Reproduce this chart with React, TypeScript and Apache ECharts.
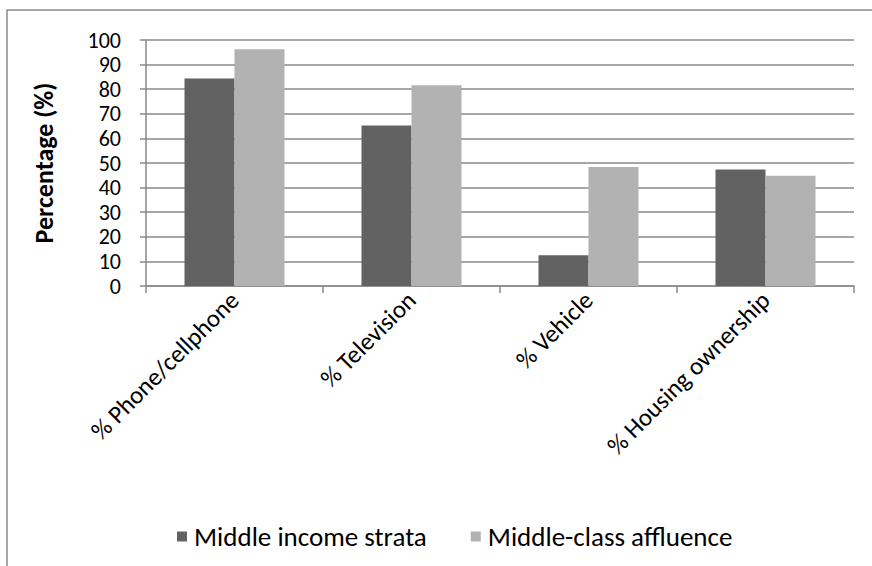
import React, { useEffect, useRef } from "react";
import * as echarts from "echarts";

const categories = ["% Phone/cellphone", "% Television", "% Vehicle", "% Housing ownership"];
const middleIncomeStrata = [84.4, 65.2, 12.5, 47.4];
const middleClassAffluence = [96.2, 81.6, 48.4, 44.8];
const seriesNames = ["Middle income strata", "Middle-class affluence"];

const FONT = "Carlito, Calibri, Lato, 'Noto Sans', sans-serif";

export default function App() {
  const ref = useRef<HTMLDivElement>(null);

  useEffect(() => {
    if (!ref.current) return;
    const chart = echarts.init(ref.current, null, { renderer: "svg" });
    chart.setOption({
      animation: false,
      backgroundColor: "#ffffff",
      textStyle: { fontFamily: FONT },
      graphic: [
        {
          type: "rect",
          shape: { x: 7, y: 10, width: 900, height: 600 },
          style: { fill: "none", stroke: "#8a8a8a", lineWidth: 1.5 },
          silent: true,
        },
      ],
      grid: { left: 146, right: 18, top: 40, bottom: 280, containLabel: false },
      legend: {
        left: 172,
        top: 518,
        itemWidth: 10,
        itemHeight: 10,
        itemGap: 44,
        icon: "rect",
        textStyle: { fontFamily: FONT, fontSize: 27, color: "#000", padding: [0, 0, 0, 2] },
        data: seriesNames,
      },
      xAxis: {
        type: "category",
        data: categories,
        axisLine: { lineStyle: { color: "#8a8a8a", width: 1.5 } },
        axisTick: { show: true, length: 7, lineStyle: { color: "#8a8a8a", width: 1.5 } },
        axisLabel: {
          rotate: 45,
          interval: 0,
          margin: 10,
          fontFamily: FONT,
          fontSize: 25,
          color: "#000",
        },
      },
      yAxis: {
        type: "value",
        min: 0,
        max: 100,
        interval: 10,
        name: "Percentage (%)",
        nameLocation: "middle",
        nameGap: 89,
        nameTextStyle: { fontFamily: FONT, fontSize: 26, fontWeight: "bold", color: "#000" },
        axisLine: { show: true, lineStyle: { color: "#8a8a8a", width: 1.5 } },
        axisTick: { show: true, length: 6, lineStyle: { color: "#8a8a8a", width: 1.5 } },
        axisLabel: {
          fontFamily: FONT,
          fontSize: 22,
          lineHeight: 20,
          color: "#000",
          margin: 25,
          showMinLabel: true,
          showMaxLabel: true,
          hideOverlap: false,
        },
        splitLine: { lineStyle: { color: "#8a8a8a", width: 1.5 } },
      },
      series: [
        {
          name: seriesNames[0],
          type: "bar",
          data: middleIncomeStrata,
          barGap: "0%",
          barCategoryGap: "43.5%",
          itemStyle: { color: "#626262" },
        },
        {
          name: seriesNames[1],
          type: "bar",
          data: middleClassAffluence,
          barGap: "0%",
          barCategoryGap: "43.5%",
          itemStyle: { color: "#b2b2b2" },
        },
      ],
    });
    return () => chart.dispose();
  }, []);

  return (
    <div
      ref={ref}
      style={{ position: "fixed", left: 0, top: 0, width: 872, height: 566 }}
    />
  );
}
